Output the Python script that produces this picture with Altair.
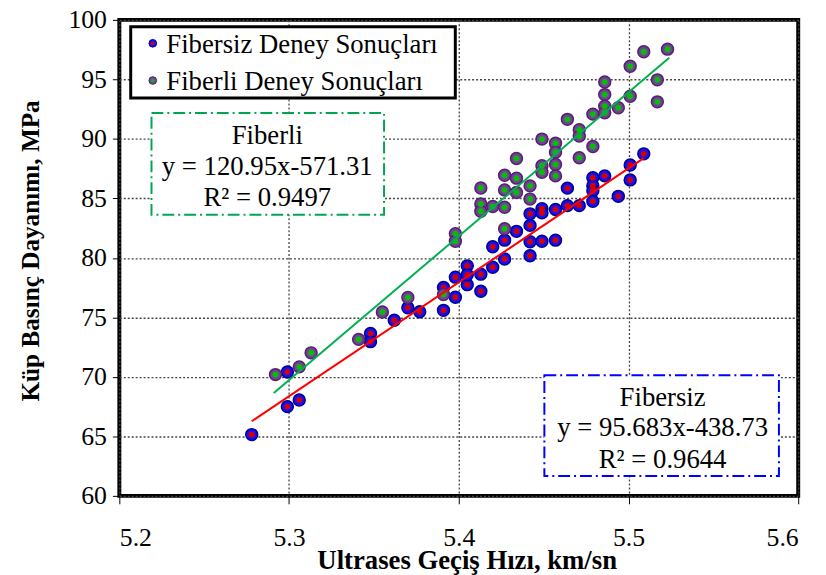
import altair as alt
import pandas as pd

# ---------------- data ----------------
fibersiz_x = [5.278, 5.299, 5.306, 5.299, 5.348, 5.348, 5.362, 5.370, 5.377, 5.391,
              5.391, 5.398, 5.398, 5.405, 5.405, 5.405, 5.413, 5.413, 5.420, 5.420,
              5.427, 5.427, 5.434, 5.442, 5.442, 5.442, 5.442, 5.449, 5.449, 5.449,
              5.457, 5.457, 5.464, 5.464, 5.471, 5.479, 5.479, 5.479, 5.479, 5.486,
              5.494, 5.501, 5.501, 5.509]
fibersiz_y = [65.15, 67.50, 68.06, 70.41, 73.65, 72.96, 74.76, 75.81, 75.47, 75.59,
              77.52, 76.69, 78.38, 77.75, 79.33, 78.58, 78.63, 77.19, 79.21, 80.93,
              79.91, 81.49, 82.23, 80.18, 81.35, 82.73, 83.70, 84.13, 83.78, 81.40,
              84.06, 81.49, 85.86, 84.39, 84.39, 86.74, 86.06, 85.64, 84.75, 86.89,
              85.17, 87.80, 86.55, 88.74]

fiberli_x = [5.292, 5.306, 5.313, 5.341, 5.355, 5.370, 5.391, 5.398, 5.398, 5.413,
             5.413, 5.413, 5.420, 5.427, 5.427, 5.427, 5.427, 5.434, 5.434, 5.434,
             5.442, 5.442, 5.449, 5.449, 5.449, 5.457, 5.457, 5.457, 5.457, 5.464,
             5.471, 5.471, 5.471, 5.479, 5.479, 5.486, 5.486, 5.486, 5.486, 5.494,
             5.501, 5.501, 5.509, 5.517, 5.517, 5.523]
fiberli_y = [70.19, 70.84, 72.02, 73.15, 75.45, 76.67, 76.92, 82.03, 81.40, 85.87,
             84.53, 83.91, 84.32, 86.94, 85.71, 84.25, 82.45, 88.35, 86.70, 85.50,
             86.05, 84.94, 89.98, 87.74, 87.20, 89.63, 88.88, 87.85, 86.89, 91.64,
             90.77, 90.23, 88.41, 92.08, 89.36, 94.78, 93.72, 92.75, 92.20, 92.62,
             96.10, 93.58, 97.32, 94.96, 93.11, 97.54]

# trendline end points (as drawn)
trend_fibersiz_x = [5.278, 5.509]
trend_fibersiz_y = [66.27, 88.38]
trend_fiberli_x = [5.291, 5.524]
trend_fiberli_y = [68.64, 96.82]

x_ticks = [5.2, 5.3, 5.4, 5.5, 5.6]
y_ticks = [60, 65, 70, 75, 80, 85, 90, 95, 100]

legend_labels = ["Fibersiz Deney Sonuçları", "Fiberli Deney Sonuçları"]
ann_fiberli = ["Fiberli", "y = 120.95x-571.31", "R² = 0.9497"]
ann_fibersiz = ["Fibersiz", "y = 95.683x-438.73", "R² = 0.9644"]
x_title = "Ultrases Geçiş Hızı, km/sn"
y_title = "Küp Basınç Dayanımı, MPa"

# ---------------- chart ----------------
FONT = "Liberation Serif"
W, H = 686, 481

BLUE_OUT, BLUE_EDGE, RED_IN = "#1010ff", "#00008a", "#d40000"
PURP_OUT, PURP_EDGE, GREEN_IN = "#7a3d9c", "#4f2468", "#00c000"

fibersiz = pd.DataFrame({"hiz": fibersiz_x, "dayanim": fibersiz_y})
fiberli = pd.DataFrame({"hiz": fiberli_x, "dayanim": fiberli_y})
t_fibersiz = pd.DataFrame({"hiz": trend_fibersiz_x, "dayanim": trend_fibersiz_y})
t_fiberli = pd.DataFrame({"hiz": trend_fiberli_x, "dayanim": trend_fiberli_y})
one = pd.DataFrame({"k": [0]})

xs = alt.Scale(domain=[5.2, 5.6], nice=False, zero=False)
ys = alt.Scale(domain=[60, 100], nice=False, zero=False)

X = alt.X("hiz:Q", scale=xs, axis=alt.Axis(
    values=x_ticks, format=".1f", title=x_title, tickSize=8, labelPadding=21,
    titleX=351, titleY=73, titleBaseline="alphabetic", titleAlign="center",
    titleFontSize=27))
Y = alt.Y("dayanim:Q", scale=ys, axis=alt.Axis(
    values=y_ticks, format="d", title=y_title, tickSize=7, labelPadding=6,
    titleX=-90, titleY=233, titleAngle=-90, titleAlign="center",
    titleBaseline="middle", titleFontSize=25.5))

def pts(df, outer, edge, inner):
    o = alt.Chart(df).mark_circle(size=145, color=outer, opacity=1,
                                  stroke=edge, strokeWidth=1.5).encode(x=X, y=Y)
    i = alt.Chart(df).mark_circle(size=36, color=inner, opacity=1).encode(x=X, y=Y)
    return [o, i]

line_fs = alt.Chart(t_fibersiz).mark_line(color="#ff0000", strokeWidth=2).encode(x=X, y=Y)
line_fl = alt.Chart(t_fiberli).mark_line(color="#00b050", strokeWidth=2).encode(x=X, y=Y)

def box(x1, x2, y1, y2, color, width=2, dash=None):
    kw = dict(fill="white", stroke=color, strokeWidth=width)
    if dash:
        kw["strokeDash"] = dash
    return alt.Chart(one).mark_rect(**kw).encode(
        x=alt.value(x1), x2=alt.value(x2), y=alt.value(y1), y2=alt.value(y2))

def txt(s, x, y, size=27, align="center"):
    return alt.Chart(one).mark_text(font=FONT, fontSize=size, align=align,
                                    baseline="alphabetic", color="black").encode(
        x=alt.value(x), y=alt.value(y), text=alt.value(s))

def dot(x, y, outer, edge, inner):
    return [
        alt.Chart(one).mark_circle(size=60, color=outer, opacity=1, stroke=edge,
                                   strokeWidth=1).encode(x=alt.value(x), y=alt.value(y)),
        alt.Chart(one).mark_circle(size=14, color=inner, opacity=1).encode(
            x=alt.value(x), y=alt.value(y)),
    ]

DASH = [12, 4, 2, 4]
layers = []
layers += pts(fibersiz, BLUE_OUT, BLUE_EDGE, RED_IN)
layers += pts(fiberli, PURP_OUT, PURP_EDGE, GREEN_IN)
layers += [line_fs, line_fl]
# legend
layers += [box(11.5, 339.5, 7, 79, "black", width=3)]
layers += dot(33.8, 23.7, BLUE_OUT, BLUE_EDGE, RED_IN)
layers += dot(33.8, 61.3, PURP_OUT, PURP_EDGE, GREEN_IN)
layers += [txt(legend_labels[0], 47.5, 33.7, align="left"),
           txt(legend_labels[1], 47.5, 70.7, align="left")]
# annotation boxes
layers += [box(32.5, 267.5, 94, 197, "#00a550", dash=DASH)]
layers += [txt(ann_fiberli[0], 149.5, 125), txt(ann_fiberli[1], 149.5, 157),
           txt(ann_fiberli[2], 149.5, 188)]
layers += [box(429.5, 666.5, 359, 461, "#0000ff", dash=DASH)]
layers += [txt(ann_fibersiz[0], 549, 390), txt(ann_fibersiz[1], 549, 421),
           txt(ann_fibersiz[2], 549, 453)]

chart = alt.layer(*layers).properties(
    width=W, height=H,
    autosize=alt.AutoSizeParams(type="none"),
    padding={"left": 112.5, "top": 9, "right": 20, "bottom": 80},
).configure_view(stroke="black", strokeWidth=4).configure_axis(
    labelFont=FONT, labelFontSize=26, labelColor="black",
    titleFont=FONT, titleFontWeight="bold", titleColor="black",
    tickColor="black", tickWidth=1, domain=False,
    gridColor="#444444", gridDash=[2, 2], gridWidth=1.3,
)

chart.save("out.html", embed_options={"renderer": "svg", "actions": False})
